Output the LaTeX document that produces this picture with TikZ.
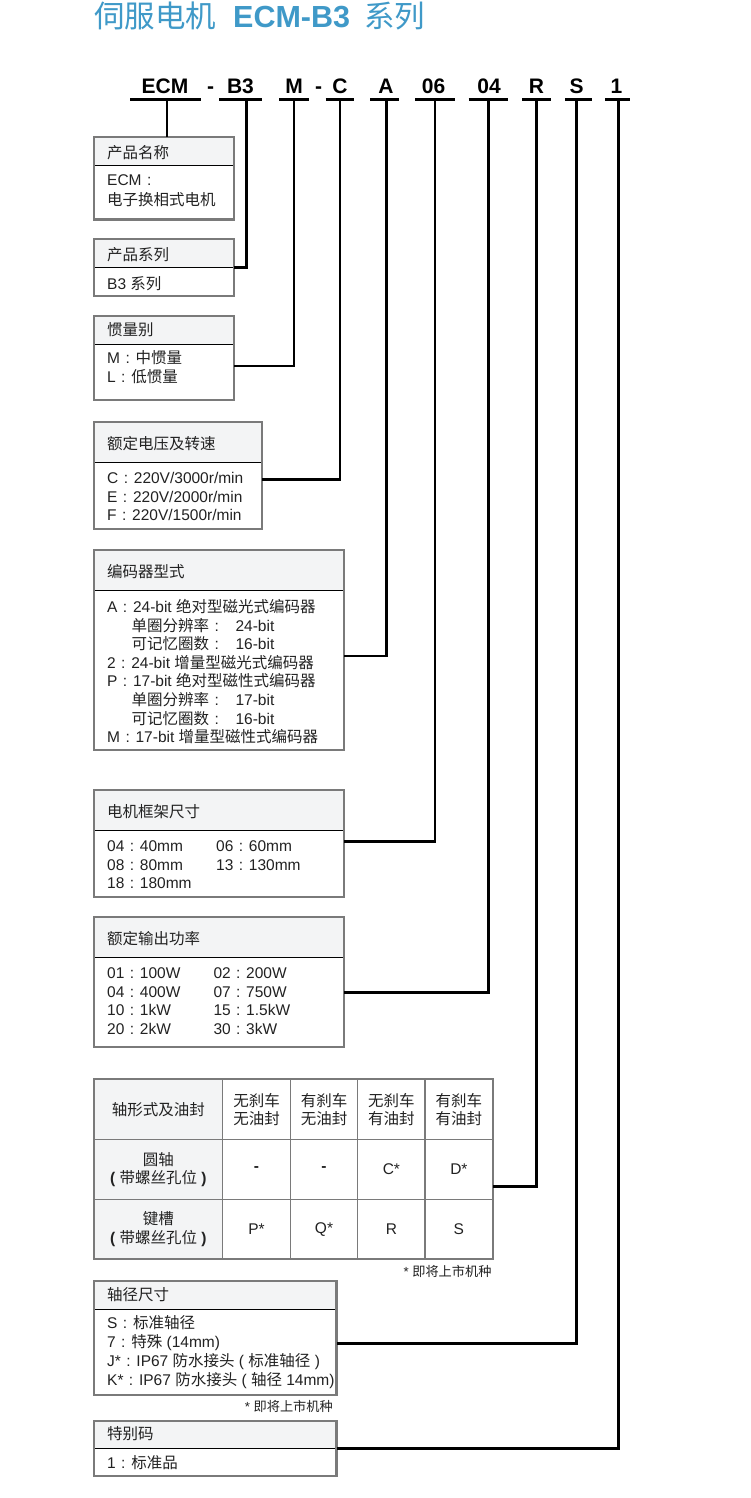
\documentclass[tikz,border=0pt]{standalone}
\usepackage{fontspec}
\setmainfont{Liberation Sans}
\newfontfamily\cjkf{Noto Sans CJK SC}
\newXeTeXintercharclass\CJKcls
\newcount\cjkcnt
\cjkcnt="21 \loop\ifnum\cjkcnt<"7F \XeTeXcharclass\cjkcnt=0 \advance\cjkcnt by 1 \repeat
\cjkcnt="3000 \loop\ifnum\cjkcnt<"3040 \XeTeXcharclass\cjkcnt=\CJKcls \advance\cjkcnt by 1 \repeat
\cjkcnt="4E00 \loop\ifnum\cjkcnt<"A000 \XeTeXcharclass\cjkcnt=\CJKcls \advance\cjkcnt by 1 \repeat
\cjkcnt="FF00 \loop\ifnum\cjkcnt<"FFF0 \XeTeXcharclass\cjkcnt=\CJKcls \advance\cjkcnt by 1 \repeat
\XeTeXinterchartoks 0 \CJKcls = {\cjkf}
\XeTeXinterchartoks 4095 \CJKcls = {\cjkf}
\XeTeXinterchartoks \CJKcls 0 = {\rmfamily}
\XeTeXinterchartoks \CJKcls 4095 = {\rmfamily}
\XeTeXinterchartokenstate=1

\definecolor{ttl}{RGB}{63,153,200}
\definecolor{bordergray}{RGB}{122,122,122}
\definecolor{hdrgray}{RGB}{243,244,245}
\definecolor{txtc}{RGB}{34,34,34}

% centred full-width colon
\newcommand\cl{\hspace{5.4pt}{\rmfamily:}\hspace{5.8pt}}
\newcommand\boxtext[5]{\foreach \lline [count=\lidx] in {#5} {\node[txt] (#1-\lidx) at (#2,{#3+(\lidx-1)*#4}) {\lline};}}
\newcommand\partbox[6]{%
  \fill[hdrgray] (#2,#3) rectangle (#4,#5);
  \draw[divline] (#2,#5) -- (#4,#5);
  \node[boxnode, minimum width={#4-#2}, minimum height={#6-#3}] (#1) at (#2,#3) {};
}

\begin{document}
\begin{tikzpicture}[x=1pt,y=-1pt,
  boxnode/.style={draw=bordergray, line width=2.2pt, inner sep=0pt, outer sep=0pt, anchor=north west},
  divline/.style={black, line width=1pt},
  txt/.style={font=\fontsize{15.5}{18.6}\selectfont, text=txtc, inner sep=0pt, anchor=base west},
  code/.style={font=\fontsize{21}{24}\selectfont\bfseries, text=black, inner sep=0pt, anchor=base},
  uline/.style={line width=2.5pt, black},
  conn/.style={line width=2.6pt, black, line join=miter},
  note/.style={font=\fontsize{13.2}{15}\selectfont, text=txtc, inner sep=0pt, anchor=base east},
  cell/.style={font=\fontsize{15.5}{18.3}\selectfont, text=txtc, inner sep=0pt, align=center},
  gridline/.style={draw=bordergray, line width=1.3pt}
]
\useasboundingbox[fill=white] (0,0) rectangle (750,1498);

% title
\node[anchor=base west, inner sep=0pt, text=ttl, font=\fontsize{30.5}{36}\selectfont] (title) at (94,28) {伺服电机\hspace{17pt}{\bfseries ECM-B3}\hspace{14pt}系列};

% code row
\node[code] (kECM) at (165,93.5) {ECM};
\node[code] (kd1) at (210.7,93.5) {-};
\node[code] (kB3) at (240.5,93.5) {B3};
\node[code] (kM) at (294,93.5) {M};
\node[code] (kd2) at (318.6,93.5) {-};
\node[code] (kC) at (340,93.5) {C};
\node[code] (kA) at (386,93.5) {A};
\node[code] (k06) at (433.5,93.5) {06};
\node[code] (k04) at (489,93.5) {04};
\node[code] (kR) at (536.4,93.5) {R};
\node[code] (kS) at (576.5,93.5) {S};
\node[code] (k1) at (616.5,93.5) {1};

\draw[uline] (130,99.5) -- (200.7,99.5);
\draw[uline] (219.3,99.5) -- (262,99.5);
\draw[uline] (279.3,99.5) -- (308.6,99.5);
\draw[uline] (325.7,99.5) -- (353.6,99.5);
\draw[uline] (370,99.5) -- (399,99.5);
\draw[uline] (415,99.5) -- (455,99.5);
\draw[uline] (468.6,99.5) -- (507.9,99.5);
\draw[uline] (522,99.5) -- (551.4,99.5);
\draw[uline] (565,99.5) -- (591.8,99.5);
\draw[uline] (605,99.5) -- (630,99.5);

\coordinate (dECM) at (167,99.5);
\coordinate (dB3) at (246.5,99.5);
\coordinate (dM) at (294,99.5);
\coordinate (dC) at (340,99.5);
\coordinate (dA) at (386.5,99.5);
\coordinate (d06) at (434.8,99.5);
\coordinate (d04) at (488.5,99.5);
\coordinate (dR) at (536.4,99.5);
\coordinate (dS) at (576.5,99.5);
\coordinate (d1) at (618.6,99.5);

% boxes
\partbox{b1}{94}{137}{234}{165.5}{219.5}
\node[txt] (h1) at (107,158.4) {产品名称};
\boxtext{t1}{107}{185.7}{19.4}{ECM\cl,电子换相式电机}

\partbox{b2}{94}{239}{234}{267.3}{295.7}
\node[txt] (h2) at (107,260.2) {产品系列};
\boxtext{t2}{107}{289}{18.6}{B3 系列}

\partbox{b3}{94}{316}{234}{344.3}{400}
\node[txt] (h3) at (107,335.7) {惯量别};
\boxtext{t3}{107}{363.7}{18.7}{M\cl 中惯量,L\cl 低惯量}

\partbox{b4}{94}{421.7}{262.3}{462}{529}
\node[txt] (h4) at (107,449) {额定电压及转速};
\boxtext{t4}{107}{483.7}{18.5}{C\cl 220V/3000r/min,E\cl 220V/2000r/min,F\cl 220V/1500r/min}

\partbox{b5}{94}{550}{344}{590.7}{750}
\node[txt] (h5) at (107,577.4) {编码器型式};
\boxtext{t5}{107}{612.4}{18.6}{A\cl 24-bit 绝对型磁光式编码器,\hspace*{24.4pt}单圈分辨率\cl\hspace{11pt}24-bit,\hspace*{24.4pt}可记忆圈数\cl\hspace{11pt}16-bit,2\cl 24-bit 增量型磁光式编码器,P\cl 17-bit 绝对型磁性式编码器,\hspace*{24.4pt}单圈分辨率\cl\hspace{11pt}17-bit,\hspace*{24.4pt}可记忆圈数\cl\hspace{11pt}16-bit,M\cl 17-bit 增量型磁性式编码器}

\partbox{b6}{94}{790}{344}{830.7}{896.7}
\node[txt] (h6) at (107,817.4) {电机框架尺寸};
\boxtext{t6a}{107}{851.4}{18.7}{04\cl 40mm,08\cl 80mm,18\cl 180mm}
\boxtext{t6b}{216}{851.4}{18.7}{06\cl 60mm,13\cl 130mm}

\partbox{b7}{94}{916.7}{344}{957.3}{1047.3}
\node[txt] (h7) at (107,944) {额定输出功率};
\boxtext{t7a}{107}{978.4}{18.6}{01\cl 100W,04\cl 400W,10\cl 1kW,20\cl 2kW}
\boxtext{t7b}{213.3}{978.4}{18.6}{02\cl 200W,07\cl 750W,15\cl 1.5kW,30\cl 3kW}

% table
\fill[hdrgray] (94,1079.3) rectangle (222.7,1259);
\foreach \gx in {222.7,290.3,357.7,425} {\draw[gridline] (\gx,1079.3) -- (\gx,1259);}
\foreach \gy in {1139.3,1199.3} {\draw[gridline] (94,\gy) -- (492.7,\gy);}
\node[boxnode, minimum width={492.7-94}, minimum height={1259-1079.3}] (tbl) at (94,1079.3) {};
\node[cell] (c00) at (158.4,1109.3) {轴形式及油封};
\node[cell] (c01) at (256.5,1109.3) {无刹车\\无油封};
\node[cell] (c02) at (324,1109.3) {有刹车\\无油封};
\node[cell] (c03) at (391.4,1109.3) {无刹车\\有油封};
\node[cell] (c04) at (458.9,1109.3) {有刹车\\有油封};
\node[cell] (c10) at (158.4,1169.3) {圆轴\\\textbf{(} 带螺丝孔位 \textbf{)}};
\node[cell] (c11) at (256.5,1169.3) {\textbf{-}};
\node[cell] (c12) at (324,1169.3) {\textbf{-}};
\node[cell] (c13) at (391.4,1169.3) {C*};
\node[cell] (c14) at (458.9,1169.3) {D*};
\node[cell] (c20) at (158.4,1229.2) {键槽\\\textbf{(} 带螺丝孔位 \textbf{)}};
\node[cell] (c21) at (256.5,1229.2) {P*};
\node[cell] (c22) at (324,1229.2) {Q*};
\node[cell] (c23) at (391.4,1229.2) {R};
\node[cell] (c24) at (458.9,1229.2) {S};
\node[note] (n1) at (491.7,1276.6) {* 即将上市机种};

\partbox{b8}{94}{1281}{336.5}{1309.3}{1395}
\node[txt] (h8) at (107,1300.7) {轴径尺寸};
\boxtext{t8}{107}{1328.7}{19}{S\cl 标准轴径,7\cl 特殊 (14mm),J*\cl IP67 防水接头 ( 标准轴径 ),K*\cl IP67 防水接头 ( 轴径 14mm)}
\node[note] (n2) at (333,1411.6) {* 即将上市机种};

\partbox{b9}{94}{1420.7}{336.5}{1448}{1476}
\node[txt] (h9) at (107,1439.7) {特别码};
\boxtext{t9}{107}{1468.4}{18.6}{1\cl 标准品}

% connectors
\draw[conn] (dECM) -- (dECM |- b1.north);
\draw[conn] (dB3) |- (b2.east |- 0,267.3);
\draw[conn] (dM) |- (b3.east |- 0,366);
\draw[conn] (dC) |- (b4.east |- 0,479.3);
\draw[conn] (dA) |- (b5.east |- 0,656);
\draw[conn] (d06) |- (b6.east |- 0,841.7);
\draw[conn] (d04) |- (b7.east |- 0,992.5);
\draw[conn] (dR) |- (tbl.east |- 0,1186.7);
\draw[conn] (dS) |- (b8.east |- 0,1343.3);
\draw[conn] (d1) |- (b9.east |- 0,1448.2);
\end{tikzpicture}
\end{document}
